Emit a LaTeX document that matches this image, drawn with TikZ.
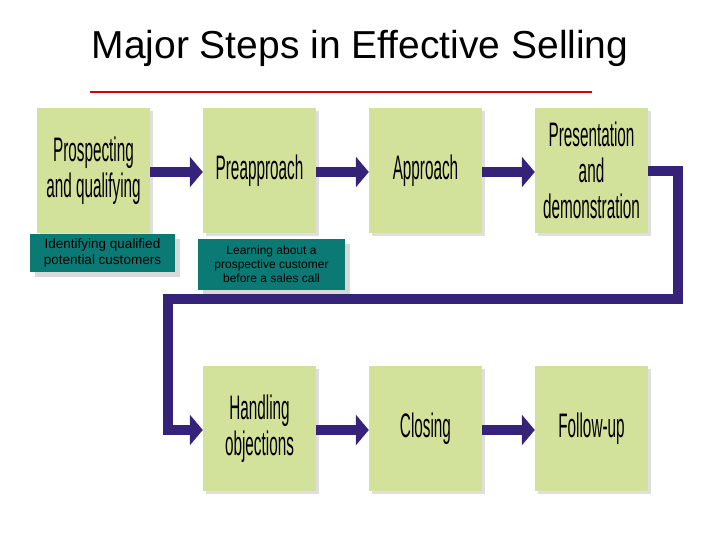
\documentclass[tikz,border=0pt]{standalone}
\usepackage{fontspec}
\setmainfont{Liberation Sans}
\usetikzlibrary{arrows.meta,shadows}
\definecolor{boxg}{HTML}{D3E29B}
\definecolor{teal2}{HTML}{0B7A74}
\definecolor{purp}{HTML}{35237A}
\tikzset{
 stepbox/.style={fill=boxg,minimum width=113pt,minimum height=125pt,inner sep=0pt,
   drop shadow={shadow xshift=3pt,shadow yshift=-3pt,fill=black!25}},
 steptxt/.style={font=\fontsize{34}{36}\selectfont,xscale=0.45,align=center},
 tealbox/.style={fill=teal2,text=black,align=center,inner sep=0pt,
   drop shadow={shadow xshift=5pt,shadow yshift=-5pt,fill=black!30}},
 flow/.style={draw=purp,line width=10pt,-{Triangle[length=13pt,width=30pt]}},
 flowline/.style={draw=purp,line width=10pt}
}
\begin{document}
\begin{tikzpicture}[x=1pt,y=-1pt]
\useasboundingbox (0,0) rectangle (720,540);
\node[font=\fontsize{39}{44}\selectfont] (title) at (360,48) {Major Steps in Effective Selling};
\draw[red!85!black,line width=2pt] (90,92) -- (592,92);
% top row
\node[stepbox] (b1) at (93.5,170.5) {};
\node[stepbox] (b2) at (259.5,170.5) {};
\node[stepbox] (b3) at (425.5,170.5) {};
\node[stepbox] (b4) at (591.5,170.5) {};
\node[steptxt] at (b1) {Prospecting\\and qualifying};
\node[steptxt] at (b2) {Preapproach};
\node[steptxt] at (b3) {Approach};
\node[steptxt] at (b4) {Presentation\\and\\demonstration};
% bottom row
\node[stepbox] (c1) at (259.5,428.5) {};
\node[stepbox] (c2) at (425.5,428.5) {};
\node[stepbox] (c3) at (591.5,428.5) {};
\node[steptxt] at (c1) {Handling\\objections};
\node[steptxt] at (c2) {Closing};
\node[steptxt] at (c3) {Follow-up};
% teal labels
\node[tealbox,minimum width=145pt,minimum height=38pt,font=\fontsize{13.5}{16}\selectfont] (t1) at (102.5,253) {Identifying qualified\\potential customers};
\node[tealbox,minimum width=147pt,minimum height=51pt,font=\fontsize{12}{14}\selectfont] (t2) at (271.5,264.5) {Learning about a\\prospective customer\\before a sales call};
% arrows
\draw[flow] (b1.east|-0,172) -- (b2.west|-0,172);
\draw[flow] (b2.east|-0,172) -- (b3.west|-0,172);
\draw[flow] (b3.east|-0,172) -- (b4.west|-0,172);
\coordinate (p1) at (678,171);
\coordinate (p2) at (678,299);
\coordinate (p3) at (168,299);
\draw[flowline] (b4.east|-0,171) -- (p1) -- (p2) -- (p3) -- ++(0,5);
\draw[flow] (168,294) -- (168,430) -- (c1.west|-0,430);
\draw[flow] (c1.east|-0,430) -- (c2.west|-0,430);
\draw[flow] (c2.east|-0,430) -- (c3.west|-0,430);
\end{tikzpicture}
\end{document}
